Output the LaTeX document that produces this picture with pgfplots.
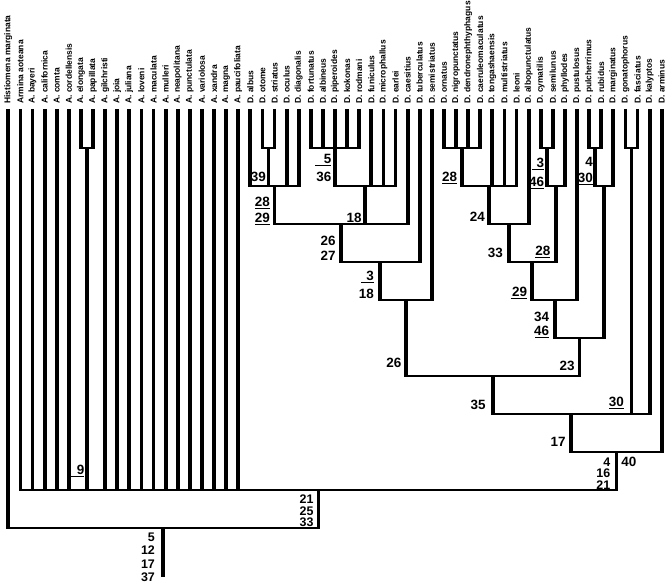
\documentclass[border=0pt]{standalone}
\usepackage{pgfplots}
\pgfplotsset{compat=1.18}
\usepackage{fontspec}
\setmainfont{Liberation Sans}
\newcommand{\nf}{\fontsize{13.5}{14}\selectfont\bfseries}
\newcommand{\nfs}{\fontsize{12.5}{13}\selectfont\bfseries}
\newcommand{\ulx}[2]{\rlap{\rule[-2.7bp]{#1}{1.2bp}}\makebox[#1][r]{#2}}
\begin{document}
\begin{tikzpicture}
\begin{axis}[
  width=666bp, height=586bp, scale only axis,
  xmin=0.314, xmax=55.355, ymin=0, ymax=586, y dir=reverse,
  hide axis, clip=false,
  unbounded coords=jump,
]
\path (rel axis cs:0,0) rectangle (rel axis cs:1,1);
% horizontal connectors
\addplot[black, line width=1.3bp, line cap=butt] coordinates {
(7,148) (8,148) (nan,nan)
(22,148) (23,148) (nan,nan)
(26,148) (30,148) (nan,nan)
(37,148) (40,148) (nan,nan)
(45,148) (46,148) (nan,nan)
(49,148) (50,148) (nan,nan)
(52,148) (53,148) (nan,nan)
(21,186) (25,186) (nan,nan)
(28,186) (33,186) (nan,nan)
(38.5,186) (43,186) (nan,nan)
(45.5,186) (47,186) (nan,nan)
(49.5,186) (51,186) (nan,nan)
(23,224) (34,224) (nan,nan)
(40.75,224) (44,224) (nan,nan)
(28.5,262) (35,262) (nan,nan)
(42.375,262) (46.25,262) (nan,nan)
(31.75,300) (36,300) (nan,nan)
(44.3125,300) (48,300) (nan,nan)
(46.15625,338) (50.25,338) (nan,nan)
(33.875,376) (48.203125,376) (nan,nan)
(41.0390625,414) (54,414) (nan,nan)
(47.51953125,452) (55,452) (nan,nan)
(2,490) (51.259765625,490) (nan,nan)
(1,528) (26.6298828125,528)
};
% vertical branches
\addplot[black, line width=3.8bp, line cap=butt] coordinates {
(1,109) (1,528.6) (nan,nan)
(2,109) (2,490.6) (nan,nan)
(3,109) (3,490.6) (nan,nan)
(4,109) (4,490.6) (nan,nan)
(5,109) (5,490.6) (nan,nan)
(6,109) (6,490.6) (nan,nan)
(7,109) (7,148.6) (nan,nan)
(8,109) (8,148.6) (nan,nan)
(9,109) (9,490.6) (nan,nan)
(10,109) (10,490.6) (nan,nan)
(11,109) (11,490.6) (nan,nan)
(12,109) (12,490.6) (nan,nan)
(13,109) (13,490.6) (nan,nan)
(14,109) (14,490.6) (nan,nan)
(15,109) (15,490.6) (nan,nan)
(16,109) (16,490.6) (nan,nan)
(17,109) (17,490.6) (nan,nan)
(18,109) (18,490.6) (nan,nan)
(19,109) (19,490.6) (nan,nan)
(20,109) (20,490.6) (nan,nan)
(21,109) (21,186.6) (nan,nan)
(22,109) (22,148.6) (nan,nan)
(23,109) (23,148.6) (nan,nan)
(24,109) (24,186.6) (nan,nan)
(25,109) (25,186.6) (nan,nan)
(26,109) (26,148.6) (nan,nan)
(27,109) (27,148.6) (nan,nan)
(28,109) (28,148.6) (nan,nan)
(29,109) (29,148.6) (nan,nan)
(30,109) (30,148.6) (nan,nan)
(31,109) (31,186.6) (nan,nan)
(32,109) (32,186.6) (nan,nan)
(33,109) (33,186.6) (nan,nan)
(34,109) (34,224.6) (nan,nan)
(35,109) (35,262.6) (nan,nan)
(36,109) (36,300.6) (nan,nan)
(37,109) (37,148.6) (nan,nan)
(38,109) (38,148.6) (nan,nan)
(39,109) (39,148.6) (nan,nan)
(40,109) (40,148.6) (nan,nan)
(41,109) (41,186.6) (nan,nan)
(42,109) (42,186.6) (nan,nan)
(43,109) (43,186.6) (nan,nan)
(44,109) (44,224.6) (nan,nan)
(45,109) (45,148.6) (nan,nan)
(46,109) (46,148.6) (nan,nan)
(47,109) (47,186.6) (nan,nan)
(48,109) (48,300.6) (nan,nan)
(49,109) (49,148.6) (nan,nan)
(50,109) (50,148.6) (nan,nan)
(51,109) (51,186.6) (nan,nan)
(52,109) (52,148.6) (nan,nan)
(53,109) (53,148.6) (nan,nan)
(54,109) (54,414.6) (nan,nan)
(55,109) (55,452.6) (nan,nan)
(7.5,148) (7.5,490.6) (nan,nan)
(22.5,148) (22.5,186.6) (nan,nan)
(23,186) (23,224.6) (nan,nan)
(28,148) (28,186.6) (nan,nan)
(30.5,186) (30.5,224.6) (nan,nan)
(28.5,224) (28.5,262.6) (nan,nan)
(31.75,262) (31.75,300.6) (nan,nan)
(33.875,300) (33.875,376.6) (nan,nan)
(38.5,148) (38.5,186.6) (nan,nan)
(40.75,186) (40.75,224.6) (nan,nan)
(42.375,224) (42.375,262.6) (nan,nan)
(45.5,148) (45.5,186.6) (nan,nan)
(46.25,186) (46.25,262.6) (nan,nan)
(44.3125,262) (44.3125,300.6) (nan,nan)
(46.15625,300) (46.15625,338.6) (nan,nan)
(49.5,148) (49.5,186.6) (nan,nan)
(50.25,186) (50.25,338.6) (nan,nan)
(48.203125,338) (48.203125,376.6) (nan,nan)
(41.0390625,376) (41.0390625,414.6) (nan,nan)
(52.5,148) (52.5,414.6) (nan,nan)
(47.51953125,414) (47.51953125,452.6) (nan,nan)
(51.259765625,452) (51.259765625,490.6) (nan,nan)
(26.6298828125,490) (26.6298828125,528.6) (nan,nan)
(13.81494140625,528) (13.81494140625,577)
};
% taxon names
\addplot[draw=none, mark=none, nodes near coords, point meta=explicit symbolic,
  nodes near coords style={rotate=90, anchor=west, inner sep=0pt,
    font=\fontsize{8.5}{10}\selectfont\bfseries}]
  table[col sep=comma, row sep=\\, x=x, y=y, meta=name] {
x,y,name\\
1,104,Histiomena marginata\\
2,104,Armina aoteana\\
3,104,A. bayeri\\
4,104,A. californica\\
5,104,A. comta\\
6,104,A. cordellensis\\
7,104,A. elongata\\
8,104,A. papillata\\
9,104,A. gilchristi\\
10,104,A. joia\\
11,104,A. juliana\\
12,104,A. loveni\\
13,104,A. maculata\\
14,104,A. mulleri\\
15,104,A. neapolitana\\
16,104,A. punctulata\\
17,104,A. variolosa\\
18,104,A. xandra\\
19,104,A. magna\\
20,104,A. paucifoliata\\
21,104,D. albus\\
22,104,D. otome\\
23,104,D. striatus\\
24,104,D. oculus\\
25,104,D. diagonalis\\
26,104,D. fortunatus\\
27,104,D. albineus\\
28,104,D. piperoides\\
29,104,D. kokonas\\
30,104,D. rodmani\\
31,104,D. funiculus\\
32,104,D. microphallus\\
33,104,D. earlei\\
34,104,D. caesitius\\
35,104,D. tuberculatus\\
36,104,D. semistriatus\\
37,104,D. ornatus\\
38,104,D. nigropunctatus\\
39,104,D. dendronephthyphagus\\
40,104,D. caeruleomaculatus\\
41,104,D. tongashaensis\\
42,104,D. multistriatus\\
43,104,D. leoni\\
44,104,D. albopunctulatus\\
45,104,D. cymatilis\\
46,104,D. semilunus\\
47,104,D. phyllodes\\
48,104,D. pustulosus\\
49,104,D. pulcherrimus\\
50,104,D. rubidus\\
51,104,D. marginatus\\
52,104,D. gonatophorus\\
53,104,D. fasciatus\\
54,104,D. kalyptos\\
55,104,D. arminus\\
};
% branch character numbers
\tikzset{nl/.style={anchor=base east, inner sep=0pt, font=\nf},
  ns/.style={anchor=base east, inner sep=0pt, font=\nfs},
  nr/.style={anchor=base west, inner sep=0pt, font=\nf}}
\node[nl, xshift=-2.5bp] at (axis cs:7.5,474) {\ulx{13bp}{9}};
\node[nl, xshift=-2.5bp] at (axis cs:22.5,181.5) {39};
\node[nl, xshift=-4.5bp] at (axis cs:23,206.7) {\ulx{15bp}{28}};
\node[nl, xshift=-4.5bp] at (axis cs:23,222.3) {\ulx{15bp}{29}};
\node[nl, xshift=-3.5bp] at (axis cs:28,163.3) {\ulx{16bp}{5}};
\node[nl, xshift=-3.5bp] at (axis cs:28,181.7) {36};
\node[nl, xshift=-3.5bp] at (axis cs:30.5,222) {18};
\node[nl, xshift=-5.3bp] at (axis cs:28.5,245) {26};
\node[nl, xshift=-5.3bp] at (axis cs:28.5,260.7) {27};
\node[nl, xshift=-6.3bp] at (axis cs:31.75,280) {\ulx{12.5bp}{3}};
\node[nl, xshift=-6.3bp] at (axis cs:31.75,298) {18};
\node[nl, xshift=-4.7bp] at (axis cs:38.5,181.7) {\ulx{15bp}{28}};
\node[nl, xshift=-4.3bp] at (axis cs:40.75,221.5) {24};
\node[nl, xshift=-2.5bp] at (axis cs:45.5,167.3) {\ulx{11.7bp}{3}};
\node[nl, xshift=-2.5bp] at (axis cs:45.5,186) {\ulx{14bp}{46}};
\node[nl, xshift=-6bp] at (axis cs:42.375,257.7) {33};
\node[nl, xshift=-5.3bp] at (axis cs:46.25,255) {\ulx{15bp}{28}};
\node[nl, xshift=-5.2bp] at (axis cs:44.3125,296.7) {\ulx{16bp}{29}};
\node[nl, xshift=-2bp] at (axis cs:49.5,166.7) {4};
\node[nl, xshift=-2bp] at (axis cs:49.5,182.7) {\ulx{14bp}{30}};
\node[nl, xshift=-5.4bp] at (axis cs:46.15625,321) {34};
\node[nl, xshift=-5.4bp] at (axis cs:46.15625,335.3) {\ulx{14bp}{46}};
\node[nl, xshift=-4.6bp] at (axis cs:33.875,367.7) {26};
\node[nl, xshift=-4.7bp] at (axis cs:48.203125,370.3) {23};
\node[nl, xshift=-7bp] at (axis cs:41.0390625,409) {35};
\node[nl, xshift=-7.3bp] at (axis cs:52.5,406.7) {\ulx{15bp}{30}};
\node[nl, xshift=-5.3bp] at (axis cs:47.51953125,446.7) {17};
\node[ns, xshift=-6bp] at (axis cs:51.259765625,466) {4};
\node[ns, xshift=-6bp] at (axis cs:51.259765625,477.3) {16};
\node[ns, xshift=-6bp] at (axis cs:51.259765625,489) {21};
\node[nr, xshift=4.7bp] at (axis cs:51.259765625,466) {40};
\node[ns, xshift=-4.7bp] at (axis cs:26.6298828125,503.3) {21};
\node[ns, xshift=-4.7bp] at (axis cs:26.6298828125,515) {25};
\node[ns, xshift=-4.7bp] at (axis cs:26.6298828125,526.5) {33};
\node[ns, xshift=-8.3bp] at (axis cs:13.81494140625,541.7) {5};
\node[ns, xshift=-8.3bp] at (axis cs:13.81494140625,554) {12};
\node[ns, xshift=-8.3bp] at (axis cs:13.81494140625,568.3) {17};
\node[ns, xshift=-8.3bp] at (axis cs:13.81494140625,581) {37};
\end{axis}
\end{tikzpicture}
\end{document}
